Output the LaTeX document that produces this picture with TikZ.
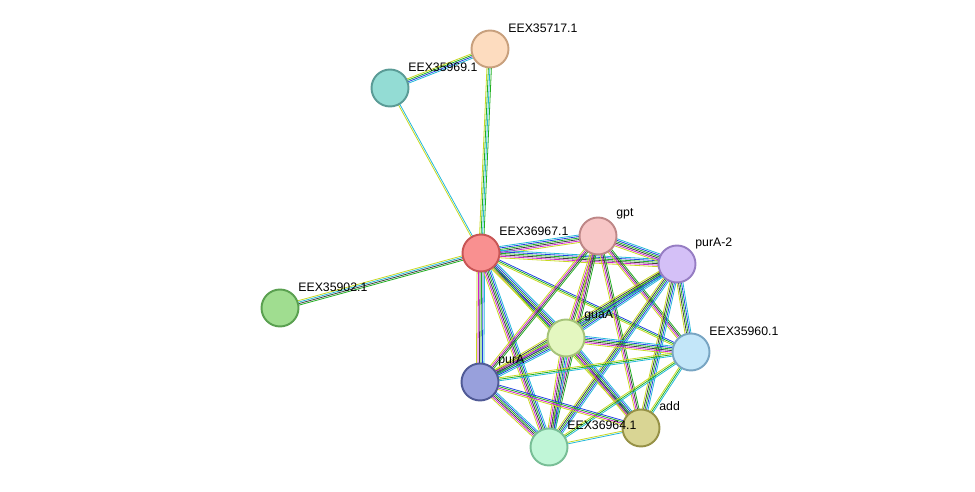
\documentclass[tikz,border=0pt]{standalone}
\usepackage{fontspec}
\setmainfont{Liberation Sans}
\usetikzlibrary{calc,backgrounds}
\definecolor{cC}{HTML}{22B8D8}
\definecolor{cM}{HTML}{D020D0}
\definecolor{cY}{HTML}{C8D820}
\definecolor{cK}{HTML}{404040}
\definecolor{cB}{HTML}{2040E0}
\definecolor{cG}{HTML}{20B020}
\tikzset{
  prot/.style={circle,minimum size=0.74cm,inner sep=0pt,line width=1.1pt},
  lab/.style={anchor=west,font=\fontsize{7pt}{8pt}\selectfont,inner sep=0pt},
  ln/.style={line width=0.45pt}
}
\newcommand\edg[3]{%
  \foreach \c [count=\i] in {#3}{\xdef\nn{\i}}%
  \foreach \c [count=\i] in {#3}{%
    \pgfmathsetmacro\off{(\i-(\nn+1)/2)*0.85}%
    \draw[ln,\c] ($(#1)!\off pt!90:(#2)$) -- ($(#2)!\off pt!-90:(#1)$);}%
}
\begin{document}
\begin{tikzpicture}[x=0.02cm,y=-0.02cm]
\useasboundingbox (0,0) rectangle (975,492);
\node[prot,fill={rgb,255:red,253;green,220;blue,191},draw={rgb,255:red,200;green,160;blue,125}] (n17) at (490,49) {};
\node[prot,fill={rgb,255:red,147;green,220;blue,212},draw={rgb,255:red,90;green,155;blue,150}] (n69) at (390,88) {};
\node[prot,fill={rgb,255:red,249;green,144;blue,144},draw={rgb,255:red,200;green,85;blue,85}] (n67) at (481,253) {};
\node[prot,fill={rgb,255:red,247;green,198;blue,198},draw={rgb,255:red,190;green,135;blue,135}] (gpt) at (598,236) {};
\node[prot,fill={rgb,255:red,212;green,192;blue,247},draw={rgb,255:red,150;green,125;blue,195}] (pa2) at (677,264) {};
\node[prot,fill={rgb,255:red,160;green,221;blue,144},draw={rgb,255:red,90;green,160;blue,80}] (n02) at (280,308) {};
\node[prot,fill={rgb,255:red,228;green,247;blue,192},draw={rgb,255:red,165;green,195;blue,120}] (guaA) at (566,338) {};
\node[prot,fill={rgb,255:red,195;green,230;blue,249},draw={rgb,255:red,120;green,165;blue,195}] (n60) at (691,352) {};
\node[prot,fill={rgb,255:red,152;green,160;blue,220},draw={rgb,255:red,80;green,90;blue,150}] (purA) at (480,382) {};
\node[prot,fill={rgb,255:red,217;green,213;blue,148},draw={rgb,255:red,150;green,145;blue,70}] (add) at (641,428) {};
\node[prot,fill={rgb,255:red,192;green,246;blue,215},draw={rgb,255:red,120;green,190;blue,150}] (n64) at (549,447) {};
\begin{scope}[on background layer]
\edg{n17}{n69}{cY,cG,cB,cC}
\edg{n69}{n67}{cY,cC}
\edg{n17}{n67}{cY,cG,cC,cG}
\edg{n67}{n02}{cY,cC,cK,cG}
\foreach \t in {gpt,pa2,guaA,purA,n64}{\edg{n67}{\t}{cY,cM,cK,cG,cB,cC}}
\foreach \t in {n60,add}{\edg{n67}{\t}{cY,cG,cB}}
\edg{gpt}{pa2}{cY,cM,cK,cG,cB,cC}
\foreach \t in {guaA,n60,purA,add,n64}{\edg{gpt}{\t}{cY,cM,cK,cG}}
\foreach \t in {guaA,n60,purA,add,n64}{\edg{pa2}{\t}{cY,cK,cG,cB,cC}}
\foreach \t in {n60,purA,add,n64}{\edg{guaA}{\t}{cY,cM,cK,cG,cB,cC}}
\foreach \t in {purA,add,n64}{\edg{n60}{\t}{cY,cG,cC}}
\edg{purA}{add}{cY,cM,cG,cB}
\edg{purA}{n64}{cY,cM,cK,cG,cB,cC}
\edg{add}{n64}{cY,cC}
\end{scope}
\node[lab] at (508,28) {EEX35717.1};
\node[lab] at (408,67) {EEX35969.1};
\node[lab] at (499,231) {EEX36967.1};
\node[lab] at (616,214) {gpt};
\node[lab] at (695,243) {purA-2};
\node[lab] at (298,287) {EEX35902.1};
\node[lab] at (584,316) {guaA};
\node[lab] at (709,331) {EEX35960.1};
\node[lab] at (498,361) {purA};
\node[lab] at (659,406) {add};
\node[lab] at (567,425) {EEX36964.1};
\end{tikzpicture}
\end{document}
